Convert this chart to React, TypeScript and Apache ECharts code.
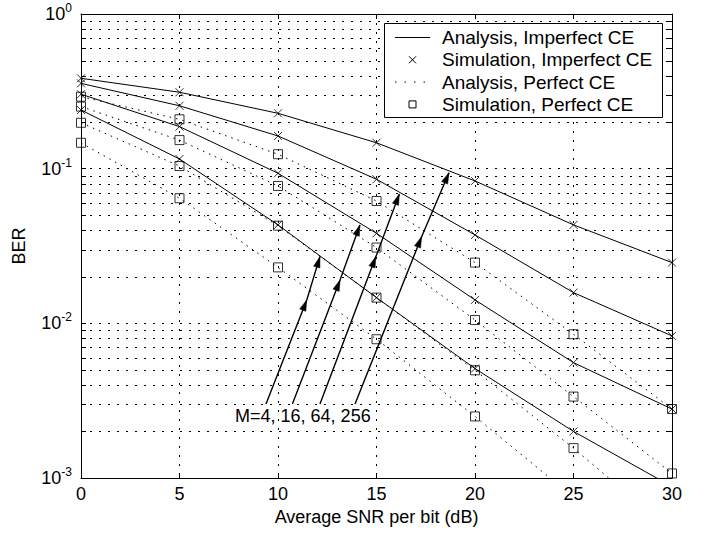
import React, { useEffect, useRef } from 'react';
import * as echarts from 'echarts';

// ---------- data ----------
const snr = [0, 5, 10, 15, 20, 25, 30];

// Analysis, Imperfect CE (solid lines)
const anaImpM4 = [0.2395, 0.1155, 0.0433, 0.01466, 0.0051, 0.002, 0.00088];
const anaImpM16 = [0.303, 0.187, 0.0934, 0.0382, 0.01417, 0.00557, 0.00279];
const anaImpM64 = [0.356, 0.255, 0.1627, 0.0854, 0.0373, 0.0158, 0.00829];
const anaImpM256 = [0.384, 0.312, 0.228, 0.147, 0.0833, 0.0433, 0.0247];

// Simulation, Imperfect CE (x markers)
const simImpM4 = [0.2395, 0.1155, 0.0433, 0.01466, 0.0051, 0.002, null];
const simImpM16 = [0.303, 0.187, 0.0934, 0.0382, 0.01417, 0.00557, 0.00279];
const simImpM64 = [0.356, 0.255, 0.1627, 0.0854, 0.0373, 0.0158, 0.00829];
const simImpM256 = [0.384, 0.312, 0.228, 0.147, 0.0833, 0.0433, 0.0247];

// Analysis, Perfect CE (dotted lines)
const anaPerM4 = [0.147, 0.0644, 0.023, 0.00789, 0.0025, 0.00075, 0.0002];
const anaPerM16 = [0.198, 0.104, 0.0428, 0.01466, 0.00497, 0.00156, 0.00045];
const anaPerM64 = [0.252, 0.153, 0.0773, 0.0309, 0.0105, 0.00336, 0.00107];
const anaPerM256 = [0.292, 0.2085, 0.124, 0.0618, 0.0247, 0.0085, 0.00279];

// Simulation, Perfect CE (square markers)
const simPerM4 = [0.147, 0.0644, 0.023, 0.00789, 0.0025, null, null];
const simPerM16 = [0.198, 0.104, 0.0428, 0.01466, 0.00497, 0.00156, null];
const simPerM64 = [0.252, 0.153, 0.0773, 0.0309, 0.0105, 0.00336, 0.00107];
const simPerM256 = [0.292, 0.2085, 0.124, 0.0618, 0.0247, 0.0085, 0.00279];

// axes / labels
const xTicks = [0, 5, 10, 15, 20, 25, 30];
const yTickValues = [1, 0.1, 0.01, 0.001];
const yTickExponents = ['0', '-1', '-2', '-3'];
const yMinorMantissas = [2, 3, 4, 5, 6, 7, 8, 9];
const yMinorDecades = [0.001, 0.01, 0.1];

const legendLabels = [
  'Analysis, Imperfect CE',
  'Simulation, Imperfect CE',
  'Analysis, Perfect CE',
  'Simulation, Perfect CE',
];
const xAxisTitle = 'Average SNR per bit (dB)';
const yAxisTitle = 'BER';
const annotationText = 'M=4, 16, 64, 256';
const annotationAnchor = [7.82, 0.00252];

// arrows (data coordinates): start, bend, tip
const arrowPaths = [
  [[9.39, 0.00301], [11.46, 0.01417], [12.13, 0.027]],
  [[10.73, 0.00301], [13.15, 0.01908], [14.16, 0.0433]],
  [[12.13, 0.00301], [14.97, 0.027], [16.16, 0.0686]],
  [[13.91, 0.00301], [17.29, 0.03634], [18.68, 0.0942]],
];

const FONT = '"Liberation Sans", Arial, Helvetica, sans-serif';
const CROSS = 'path://M0,0L10,10M10,0L0,10';

function pairs(arr: (number | null)[]) {
  return snr
    .map((x, i) => (arr[i] == null ? null : [x, arr[i] as number]))
    .filter((p) => p !== null);
}

export default function App() {
  const ref = useRef<HTMLDivElement>(null);

  useEffect(() => {
    const chart = echarts.init(ref.current!, null, { renderer: 'svg' });

    const yMinor: number[][] = [];
    yMinorDecades.forEach((d) => yMinorMantissas.forEach((m) => yMinor.push([0, m * d])));

    const gridDash = [2, 7];

    const solidSeries = [anaImpM4, anaImpM16, anaImpM64, anaImpM256].map((arr) => ({
      type: 'line',
      name: legendLabels[0],
      data: pairs(arr),
      symbol: 'none',
      clip: true,
      silent: true,
      z: 4,
      lineStyle: { color: '#000', width: 1, type: 'solid' },
    }));
    const dottedSeries = [anaPerM4, anaPerM16, anaPerM64, anaPerM256].map((arr) => ({
      type: 'line',
      name: legendLabels[2],
      data: pairs(arr),
      symbol: 'none',
      clip: true,
      silent: true,
      z: 3,
      lineStyle: { color: '#000', width: 1, type: [1.5, 5] },
    }));
    const crossSeries = [simImpM4, simImpM16, simImpM64, simImpM256].map((arr) => ({
      type: 'scatter',
      name: legendLabels[1],
      data: pairs(arr),
      symbol: CROSS,
      symbolSize: 8,
      clip: false,
      silent: true,
      z: 5,
      itemStyle: { color: 'rgba(0,0,0,0)', borderColor: '#000', borderWidth: 1 },
    }));
    const squareSeries = [simPerM4, simPerM16, simPerM64, simPerM256].map((arr) => ({
      type: 'scatter',
      name: legendLabels[3],
      data: pairs(arr),
      symbol: 'rect',
      symbolSize: 9,
      clip: false,
      silent: true,
      z: 5,
      itemStyle: { color: 'rgba(0,0,0,0)', borderColor: '#000', borderWidth: 1 },
    }));

    const minorGrid = {
      type: 'custom',
      coordinateSystem: 'cartesian2d',
      data: yMinor,
      silent: true,
      z: 1,
      encode: { x: 0, y: 1 },
      renderItem: (params: any, api: any) => {
        const v = api.value(1);
        const a = api.coord([xTicks[0], v]);
        const b = api.coord([xTicks[xTicks.length - 1], v]);
        const y = Math.round(a[1]) + 0.5;
        return {
          type: 'group',
          children: [
            {
              type: 'line',
              shape: { x1: a[0], y1: y, x2: b[0], y2: y },
              style: { stroke: '#000', lineWidth: 1, lineDash: gridDash },
            },
            {
              type: 'line',
              shape: { x1: a[0], y1: y, x2: a[0] + 5, y2: y },
              style: { stroke: '#000', lineWidth: 1 },
            },
            {
              type: 'line',
              shape: { x1: b[0] - 6, y1: y, x2: b[0], y2: y },
              style: { stroke: '#000', lineWidth: 1 },
            },
          ],
        };
      },
    };

    const axisLine = { show: true, onZero: false, lineStyle: { color: '#000', width: 1 } };

    chart.setOption({
      animation: false,
      backgroundColor: '#fff',
      grid: { left: 81, right: 32, top: 14, bottom: 57, containLabel: false },
      xAxis: [
        {
          type: 'value',
          min: xTicks[0],
          max: xTicks[xTicks.length - 1],
          interval: 5,
          position: 'bottom',
          axisLine,
          axisTick: { show: true, inside: true, length: 5, lineStyle: { color: '#000' } },
          axisLabel: {
            color: '#000',
            fontSize: 18,
            fontFamily: FONT,
            margin: 7,
            formatter: (v: number) => String(xTicks.find((t) => t === v) ?? v),
          },
          splitLine: { show: true, lineStyle: { color: '#000', width: 1, type: gridDash } },
          name: xAxisTitle,
          nameLocation: 'middle',
          nameGap: 29,
          nameTextStyle: { color: '#000', fontSize: 18, fontFamily: FONT },
        },
        {
          type: 'value',
          min: xTicks[0],
          max: xTicks[xTicks.length - 1],
          interval: 5,
          position: 'top',
          axisLine,
          axisTick: { show: true, inside: true, length: 5, lineStyle: { color: '#000' } },
          axisLabel: { show: false },
          splitLine: { show: false },
        },
      ],
      yAxis: [
        {
          type: 'log',
          logBase: 10,
          min: yTickValues[yTickValues.length - 1],
          max: yTickValues[0],
          position: 'left',
          axisLine,
          axisTick: { show: true, inside: true, length: 5, lineStyle: { color: '#000' } },
          axisLabel: {
            margin: 9,
            formatter: (v: number) => {
              const idx = yTickValues.findIndex((t) => Math.abs(Math.log10(t) - Math.log10(v)) < 1e-6);
              const e = idx >= 0 ? yTickExponents[idx] : String(Math.round(Math.log10(v)));
              return `{b|10}{s|${e}}`;
            },
            rich: {
              b: { fontSize: 18, fontFamily: FONT, color: '#000', lineHeight: 24 },
              s: { fontSize: 12, fontFamily: FONT, color: '#000', verticalAlign: 'top', lineHeight: 12 },
            },
          },
          splitLine: { show: true, lineStyle: { color: '#000', width: 1, type: gridDash } },
          name: yAxisTitle,
          nameLocation: 'middle',
          nameGap: 53,
          nameTextStyle: { color: '#000', fontSize: 18, fontFamily: FONT },
        },
        {
          type: 'log',
          logBase: 10,
          min: yTickValues[yTickValues.length - 1],
          max: yTickValues[0],
          position: 'right',
          axisLine,
          axisTick: { show: true, inside: true, length: 6, lineStyle: { color: '#000' } },
          axisLabel: { show: false },
          splitLine: { show: false },
        },
      ],
      series: [minorGrid, ...dottedSeries, ...solidSeries, ...squareSeries, ...crossSeries],
    });

    // ---------- annotations & legend ----------
    const toPx = (p: number[]) =>
      chart.convertToPixel({ xAxisIndex: 0, yAxisIndex: 0 }, p) as number[];

    const graphics: any[] = [];
    const L = 11;
    const W = 3.3;
    const head = (from: number[], to: number[]) => {
      const dx = to[0] - from[0];
      const dy = to[1] - from[1];
      const len = Math.hypot(dx, dy) || 1;
      const ux = dx / len;
      const uy = dy / len;
      const bx = to[0] - ux * L;
      const by = to[1] - uy * L;
      return {
        type: 'polygon',
        silent: true,
        z: 20,
        shape: {
          points: [
            [to[0], to[1]],
            [bx - uy * W, by + ux * W],
            [bx + uy * W, by - ux * W],
          ],
        },
        style: { fill: '#000', stroke: '#000', lineWidth: 0.5 },
      };
    };
    arrowPaths.forEach((path) => {
      const pts = path.map(toPx);
      graphics.push({
        type: 'polyline',
        silent: true,
        z: 20,
        shape: { points: pts },
        style: { stroke: '#000', lineWidth: 1.4, fill: null },
      });
      graphics.push(head(pts[0], pts[1]));
      graphics.push(head(pts[1], pts[2]));
    });
    const ap = toPx(annotationAnchor);
    graphics.push({
      type: 'text',
      silent: true,
      z: 20,
      x: ap[0],
      y: ap[1],
      style: {
        text: annotationText,
        fontSize: 18,
        fontFamily: FONT,
        fill: '#000',
        align: 'left',
        verticalAlign: 'middle',
      },
    });

    // legend box
    const lx = 384.5;
    const ly = 23.5;
    const lw = 278;
    const lh = 94;
    graphics.push({
      type: 'rect',
      silent: true,
      z: 30,
      shape: { x: lx, y: ly, width: lw, height: lh },
      style: { fill: '#fff', stroke: '#000', lineWidth: 1 },
    });
    const rowY = (i: number) => 37.5 + i * 22.3;
    const sx1 = 395;
    const sx2 = 430;
    const sc = (sx1 + sx2) / 2;
    legendLabels.forEach((label, i) => {
      const y = rowY(i);
      if (i === 0) {
        graphics.push({
          type: 'line', silent: true, z: 31,
          shape: { x1: sx1, y1: y, x2: sx2, y2: y },
          style: { stroke: '#000', lineWidth: 1 },
        });
      } else if (i === 1) {
        const s = 3.5;
        graphics.push({
          type: 'line', silent: true, z: 31,
          shape: { x1: sc - s, y1: y - s, x2: sc + s, y2: y + s },
          style: { stroke: '#000', lineWidth: 1 },
        });
        graphics.push({
          type: 'line', silent: true, z: 31,
          shape: { x1: sc - s, y1: y + s, x2: sc + s, y2: y - s },
          style: { stroke: '#000', lineWidth: 1 },
        });
      } else if (i === 2) {
        graphics.push({
          type: 'line', silent: true, z: 31,
          shape: { x1: sx1, y1: y, x2: sx2, y2: y },
          style: { stroke: '#000', lineWidth: 1, lineDash: [1.5, 8] },
        });
      } else {
        graphics.push({
          type: 'rect', silent: true, z: 31,
          shape: { x: sc - 3.5, y: y - 3.5, width: 7, height: 7 },
          style: { stroke: '#000', lineWidth: 1, fill: 'none' },
        });
      }
      graphics.push({
        type: 'text', silent: true, z: 31,
        x: 442,
        y,
        style: {
          text: label,
          fontSize: 19,
          fontFamily: FONT,
          fill: '#000',
          align: 'left',
          verticalAlign: 'middle',
        },
      });
    });

    chart.setOption({ graphic: graphics });

    return () => chart.dispose();
  }, []);

  return (
    <div
      ref={ref}
      style={{ position: 'absolute', left: 0, top: 0, width: 704, height: 535, background: '#fff' }}
    />
  );
}
